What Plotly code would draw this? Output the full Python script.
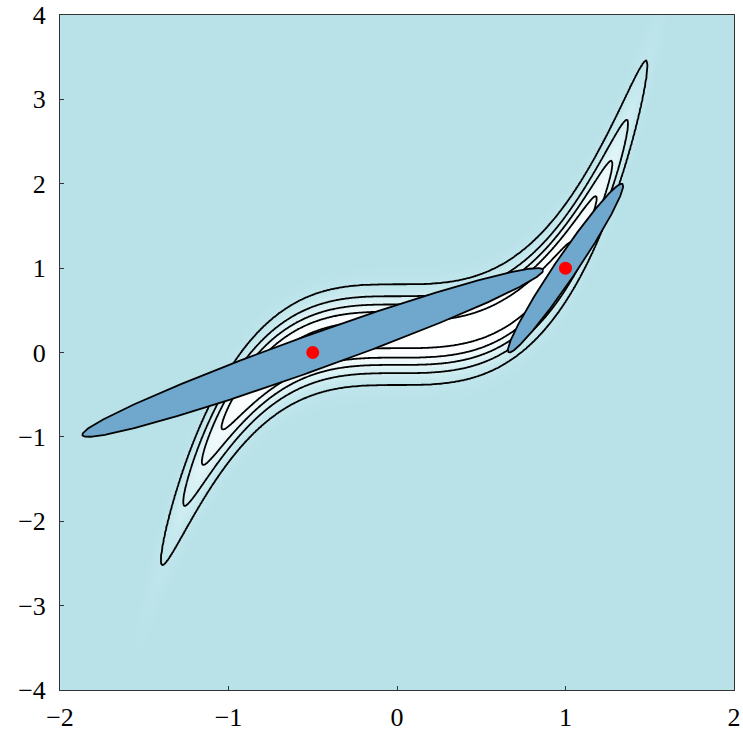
import numpy as np
import plotly.graph_objects as go

# ---------------- data ----------------
x_range = [-2, 2]
y_range = [-4, 4]
x_ticks = [-2, -1, 0, 1, 2]
y_ticks = [-4, -3, -2, -1, 0, 1, 2, 3, 4]

# banana density: y ~ a*x^3 + c (noise var), with Gaussian prior on y
cubic_coef = 1.01
curve_offset = 0.20
noise_var = 0.053
prior_mean_y = 0.47
prior_var_y = 1.26

# contour levels as fractions of the peak density
contour_levels = [0.0287, 0.125, 0.275, 0.468, 0.756]

# Gaussian (Laplace) approximations at two points
point_x = [-0.5, 1.0]
point_y = [0.0, 1.0]
cov_1 = [[1.87, 1.333], [1.333, 1.0]]
cov_2 = [[0.117, 0.333], [0.333, 1.0]]

# ---------------- build ----------------
xs = np.linspace(x_range[0], x_range[1], 501)
ys = np.linspace(y_range[0], y_range[1], 801)
X, Y = np.meshgrid(xs, ys)
logp = (-(Y - cubic_coef * X**3 - curve_offset) ** 2 / (2 * noise_var)
        - (Y - prior_mean_y) ** 2 / (2 * prior_var_y))
P = np.exp(logp)
P = np.round(P, 5)

Zl = np.interp(P, [0] + contour_levels + [1.0], list(range(len(contour_levels) + 2)))
Zl = np.round(Zl, 4)

bg = "rgb(185,226,232)"
cscale = [
    [0.0, bg],
    [0.02, "rgb(190,229,235)"],
    [0.12, "rgb(208,238,242)"],
    [0.3, "rgb(232,247,249)"],
    [0.55, "rgb(250,253,254)"],
    [1.0, "rgb(255,255,255)"],
]

fig = go.Figure()
fig.add_trace(go.Heatmap(x=xs, y=ys, z=P, zmin=0, zmax=1, colorscale=cscale,
                         zsmooth="best", showscale=False, hoverinfo="skip"))
fig.add_trace(go.Contour(x=xs, y=ys, z=Zl, showscale=False,
                         contours=dict(start=1, end=len(contour_levels), size=1, coloring="none"),
                         line=dict(color="black", width=1.8, smoothing=1),
                         hoverinfo="skip"))

t = np.linspace(0, 2 * np.pi, 400)
circle = np.vstack([np.cos(t), np.sin(t)])
for mx, my, cov in zip(point_x, point_y, [cov_1, cov_2]):
    L = np.linalg.cholesky(np.array(cov))
    pts = L @ circle
    fig.add_trace(go.Scatter(x=mx + pts[0], y=my + pts[1], mode="lines", fill="toself",
                             fillcolor="rgb(111,167,205)",
                             line=dict(color="black", width=1.8),
                             hoverinfo="skip", showlegend=False))

fig.add_trace(go.Scatter(x=point_x, y=point_y, mode="markers",
                         marker=dict(color="red", size=13, line=dict(width=0)),
                         showlegend=False, hoverinfo="skip"))

axis_common = dict(showgrid=False, zeroline=False, showline=True, linecolor="#333",
                   linewidth=1, mirror=True, ticks="inside", ticklen=4, tickcolor="#333",
                   automargin=False,
                   tickfont=dict(family="Liberation Serif", size=26, color="black"))
fig.update_xaxes(range=x_range, tickvals=x_ticks, ticklabelstandoff=4, **axis_common)
fig.update_yaxes(range=y_range, tickvals=y_ticks, ticklabelstandoff=8, **axis_common)

fig.update_layout(width=743, height=732, margin=dict(l=60, r=9, t=15, b=42),
                  plot_bgcolor=bg, paper_bgcolor="white", showlegend=False,
                  font=dict(family="Liberation Serif"))

fig.write_html("out.html")
